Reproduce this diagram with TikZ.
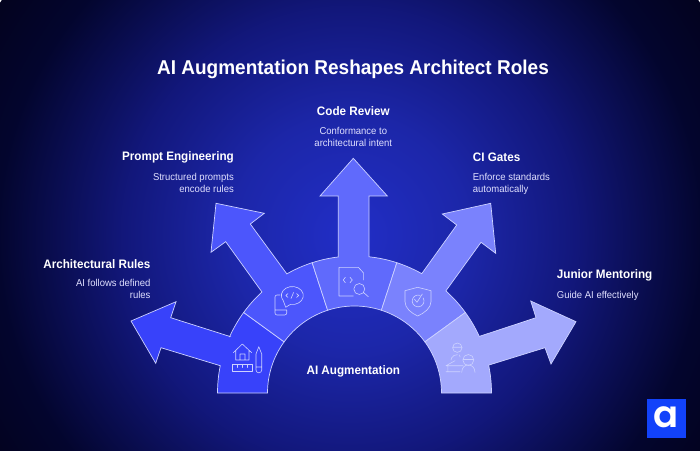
\documentclass[tikz,border=0pt]{standalone}
\usepackage{fontspec}
\setmainfont[FakeStretch=0.95]{Liberation Sans}
\newfontfamily\logofont{Poppins SemiBold}
\usetikzlibrary{calc}
\definecolor{ruleone}{RGB}{56,66,250}
\definecolor{ruletwo}{RGB}{76,86,252}
\definecolor{rulethree}{RGB}{96,106,252}
\definecolor{rulefour}{RGB}{122,130,253}
\definecolor{rulefive}{RGB}{163,169,253}
\definecolor{edgeline}{RGB}{205,210,255}
\definecolor{logoblue}{RGB}{18,66,250}
\pgfdeclareradialshading{bgglow}{\pgfpoint{0bp}{0bp}}{rgb(0bp)=(0.13,0.18,0.78);rgb(7bp)=(0.11,0.15,0.66);rgb(13.5bp)=(0.07,0.09,0.48);rgb(21bp)=(0.012,0.02,0.18);rgb(25bp)=(0.01,0.01,0.12);rgb(50bp)=(0.01,0.01,0.12)}
\tikzset{
  segment/.style={draw=edgeline,line width=0.7pt,line join=miter},
  icon/.style={draw=edgeline,line width=0.6pt,line cap=round,line join=round},
  headline/.style={text=white,font=\bfseries\fontsize{12.3}{15}\selectfont,inner sep=0pt},
  subline/.style={text=white!88!blue,font=\fontsize{10}{11.5}\selectfont,inner sep=0pt}
}
\begin{document}
\begin{tikzpicture}[x=1pt,y=1pt]
\useasboundingbox (0,0) rectangle (700,450);
\clip (0,0) rectangle (700,450);
\shade[shading=bgglow] (350,215) circle (420);
\coordinate (hub) at (354.5,57);
% ring segments with their arrows
\draw[segment,fill=ruleone] ($(hub)+(180:87)$)--($(hub)+(180:137)$) arc [start angle=180,end angle=168.5,radius=137]--(161,102.3)--(155.7,86.7)--(131,129)--(176,148.3)--(170.7,132.3)--(230,113.5)--($(hub)+(155.7:137)$) arc [start angle=155.7,end angle=144,radius=137]--($(hub)+(144:87)$) arc [start angle=144,end angle=180,radius=87]--cycle;
\draw[segment,fill=ruletwo] ($(hub)+(144:87)$)--($(hub)+(144:137)$) arc [start angle=144,end angle=132.5,radius=137]--(225.7,208.3)--(211,197.7)--(216,246.7)--(264.3,236.7)--(250.3,226)--(286.7,176.3)--($(hub)+(119.6:137)$) arc [start angle=119.6,end angle=108,radius=137]--($(hub)+(108:87)$) arc [start angle=108,end angle=144,radius=87]--cycle;
\draw[segment,fill=rulethree] ($(hub)+(108:87)$)--($(hub)+(108:137)$) arc [start angle=108,end angle=96.8,radius=137]--(338.3,254)--(320,254)--(353.3,291.7)--(387.3,254)--(369,254)--($(hub)+(83.9:137)$) arc [start angle=83.9,end angle=72,radius=137]--($(hub)+(72:87)$) arc [start angle=72,end angle=108,radius=87]--cycle;
\draw[segment,fill=rulefour] ($(hub)+(72:87)$)--($(hub)+(72:137)$) arc [start angle=72,end angle=60.6,radius=137]--(456.7,225)--(442.3,236)--(490.7,246.7)--(495.7,196.7)--(481,207.7)--(446,159.3)--($(hub)+(48:137)$) arc [start angle=48,end angle=36,radius=137]--($(hub)+(36:87)$) arc [start angle=36,end angle=72,radius=87]--cycle;
\draw[segment,fill=rulefive] ($(hub)+(36:87)$)--($(hub)+(36:137)$) arc [start angle=36,end angle=24.4,radius=137]--(536,132.3)--(530.7,149)--(576,128.3)--(551,86)--(545,102.3)--(489,85)--($(hub)+(11.7:137)$) arc [start angle=11.7,end angle=0,radius=137]--($(hub)+(0:87)$) arc [start angle=0,end angle=36,radius=87]--cycle;
% house, ruler, pencil
\draw[icon] (233.3,97.3)--(242.3,106)--(251.7,97.3) (235.7,99.5)--(235.7,90)--(249,90)--(249,99.5) (240,90)--(240,96)--(245,96)--(245,90);
\draw[icon] (232.3,85.7) rectangle (252.3,78.3) (237,85.7)--(237,82.5) (242.3,85.7)--(242.3,82.5) (247.5,85.7)--(247.5,82.5);
\draw[icon] (256,96)--(258.8,103.3)--(261.7,96)--(261.7,80) arc [start angle=0,end angle=-180,radius=2.85]--cycle (256,83)--(261.7,83);
% phone and chat bubble
\draw[icon] (280,155)--(277,155) arc [start angle=90,end angle=180,radius=2]--(275,137) arc [start angle=180,end angle=270,radius=2]--(284.7,135) arc [start angle=270,end angle=360,radius=2]--(286.7,140)--(275,140);
\draw[icon] (290.4,145.6) arc [start angle=260,end angle=575,x radius=11,y radius=9]--(285.7,142.7)--cycle;
\draw[icon] (288,156.5)--(285.8,154.5)--(288,152.5) (296.5,156.5)--(298.7,154.5)--(296.5,152.5) (291,151.5)--(293.6,157.5);
% document and magnifier
\draw[icon] (353.3,154)--(339,154)--(339,182.7)--(358.3,182.7)--(363.3,177.3)--(363.3,170);
\draw[icon] (345.3,172.7)--(343.3,170)--(345.3,167.3) (350,172.7)--(352.3,170)--(350,167.3);
\draw[icon] (359.3,161) circle (5.5) (363.3,157.7)--(368.3,153.3);
% shield with check
\draw[icon] (417.7,162.7)--(405,159.3)--(405,148.3) .. controls (405,142) and (411,137) .. (417.7,134) .. controls (424.4,137) and (431,142) .. (431,148.3)--(431,159.3)--cycle;
\draw[icon] (423.2,152) arc [start angle=30,end angle=-290,radius=5.9];
\draw[icon] (414.3,151)--(417,147.7)--(422.3,156);
% mentor and junior
\draw[icon] (457.3,102.3) circle (4.7) (452.6,102.8)--(462,102.8);
\draw[icon] (451,90)--(451.5,92) .. controls (452.5,94.3) and (455,95.3) .. (457.3,95.3) (459.5,95)--(460,93);
\draw[icon] (468.3,90) circle (5.5) (462.8,90.5)--(473.8,90.5);
\draw[icon] (461.7,77.7) .. controls (462,83) and (465,85) .. (468.3,85) .. controls (471.6,85) and (474.7,83) .. (475,77.7);
\draw[icon] (455,89.3)--(446,84.3)--(463,84.3) (447.8,84.3)--(447.8,78.3) (446,78.3)--(460,78.3);
% texts
\node[text=white,font=\bfseries\fontsize{20}{24}\selectfont,inner sep=0pt] (maintitle) at (353,380.5) {AI Augmentation Reshapes Architect Roles};
\node[headline] (centerlabel) at (353.3,78.5) {AI Augmentation};
\node[headline,anchor=east] (rulesname) at (150.7,186) {Architectural Rules};
\node[subline,anchor=north east,align=right] (rulestext) at (150.7,170.5) {AI follows defined\\rules};
\node[headline,anchor=east] (promptname) at (234,292.5) {Prompt Engineering};
\node[subline,anchor=north east,align=right] (prompttext) at (234,276.5) {Structured prompts\\encode rules};
\node[headline] (reviewname) at (353.3,338.5) {Code Review};
\node[subline,anchor=north,align=center] (reviewtext) at (353.3,322.5) {Conformance to\\architectural intent};
\node[headline,anchor=west] (gatesname) at (472.7,292.5) {CI Gates};
\node[subline,anchor=north west,align=left] (gatestext) at (472.7,276.5) {Enforce standards\\automatically};
\node[headline,anchor=west] (juniorname) at (556.7,174.5) {Junior Mentoring};
\node[subline,anchor=west] (juniortext) at (556.7,154.5) {Guide AI effectively};
% logo
\node[fill=logoblue,minimum size=39pt,inner sep=0pt] (logobox) at (666.7,31.2) {};
\node[text=white,font=\logofont\fontsize{37}{37}\selectfont,inner sep=0pt] (logoletter) at (666.3,32.5) {a};
\end{tikzpicture}
\end{document}
